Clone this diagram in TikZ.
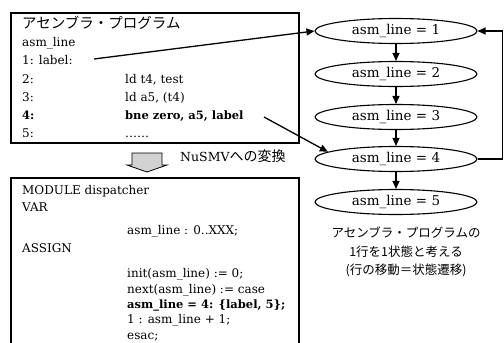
\documentclass[tikz,border=0pt]{standalone}
\usepackage{fontspec}
\setmainfont{DejaVu Serif}
\newfontfamily\jp{Noto Sans CJK JP}
\usetikzlibrary{arrows.meta,shapes.geometric}
\tikzset{
  code/.style={anchor=base west, inner sep=0pt, font=\fontsize{12}{14}\selectfont},
  boldcode/.style={code, font=\fontsize{11.5}{14}\selectfont\bfseries},
  jphead/.style={anchor=base west, inner sep=0pt, font=\jp\fontsize{14.5}{16}\selectfont},
  note/.style={align=center, inner sep=0pt, font=\jp\fontsize{12.5}{18.5}\selectfont},
  state/.style={ellipse, draw, line width=1.1pt, minimum width=162pt, minimum height=25pt,
    inner sep=0pt, font=\fontsize{13.5}{15}\selectfont},
  arr/.style={-{Triangle[length=8pt,width=7pt]}, line width=1.3pt},
  frame/.style={line width=1.1pt},
  blockarrow/.style={line width=0.8pt, fill=gray!35}
}
\begin{document}
\begin{tikzpicture}[x=1pt,y=-1pt]
\useasboundingbox (0,0) rectangle (504,343);
\clip (0,0) rectangle (504,343);

% top box
\draw[frame] (11,13) rectangle (299,143);
\node[jphead] (h1) at (22,28) {アセンブラ・プログラム};
\node[code] (t0) at (22,46) {asm\_line};
\node[code] (t1) at (22,64) {1: label:};
\node[code] (t2) at (22,83) {2:};
\node[code] (t3) at (22,101) {3:};
\node[boldcode] (t4) at (22,119) {4:};
\node[code] (t5) at (22,137) {5:};
\node[code] (c2) at (125,83) {ld t4, test};
\node[code] (c3) at (125,101) {ld a5, (t4)};
\node[boldcode] (c4) at (125,119) {bne zero, a5, label};
\node[code] (c5) at (125,137) {\ldots\ldots};

% conversion arrow
\draw[blockarrow] (132,153) -- (162,153) -- (162,165) -- (167,165) -- (147,172)
  -- (127,165) -- (132,165) -- cycle;
\node[anchor=base west, inner sep=0pt, font=\fontsize{12.5}{15}\selectfont] (conv) at (180,161)
  {NuSMV{\jp\fontsize{14}{16}\selectfont への変換}};

% bottom box
\draw[frame] (11,350) -- (11,178) -- (299,178) -- (299,350);
\node[code] (m1) at (22,194.5) {MODULE dispatcher};
\node[code] (m2) at (22,211.5) {VAR};
\node[code] (m3) at (127,234) {asm\_line : 0..XXX;};
\node[code] (m4) at (22,252) {ASSIGN};
\node[code] (m5) at (127,277) {init(asm\_line) := 0;};
\node[code] (m6) at (127,293) {next(asm\_line) := case};
\node[boldcode] (m7) at (127,308.5) {asm\_line = 4: \{label, 5\};};
\node[code] (m8) at (127,323.5) {1 : asm\_line + 1;};
\node[code] (m9) at (127,339) {esac;};

% states
\node[state] (e1) at (396,31) {asm\_line = 1};
\node[state] (e2) at (396,74) {asm\_line = 2};
\node[state] (e3) at (396,117) {asm\_line = 3};
\node[state] (e4) at (396,159) {asm\_line = 4};
\node[state] (e5) at (396,202) {asm\_line = 5};

\draw[arr] (e1) -- (e2);
\draw[arr] (e2) -- (e3);
\draw[arr] (e3) -- (e4);
\draw[arr] (e4) -- (e5);
\draw[arr] (e4.east) -- ++(25,0) |- (e1.east);

% links from program to states
\coordinate (a1) at (94,59);
\coordinate (a2) at (264,117);
\draw[arr] (a1) -- (e1.west);
\draw[arr] (a2) -- (e4.174);

\node[note] (n1) at (406,252) {アセンブラ・プログラムの\\1行を1状態と考える\\(行の移動＝状態遷移)};
\end{tikzpicture}
\end{document}
